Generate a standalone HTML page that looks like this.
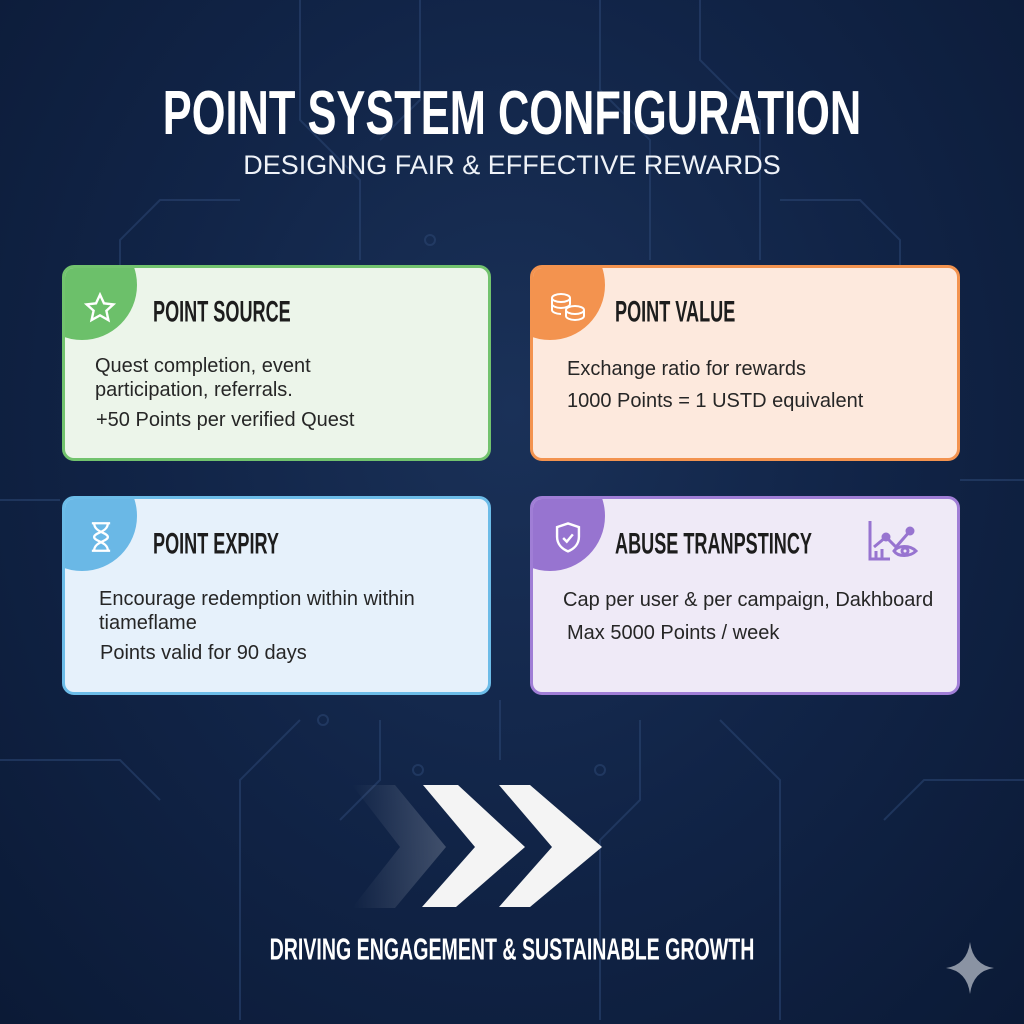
<!DOCTYPE html>
<html><head><meta charset="utf-8"><style>
*{margin:0;padding:0;box-sizing:border-box}
body{width:1024px;height:1024px;overflow:hidden;background:radial-gradient(ellipse at 50% 40%,#1a3158 0%,#112447 50%,#0b1a36 100%);font-family:"Liberation Sans",sans-serif;position:relative}
.t{position:absolute;left:0;width:1024px;text-align:center;color:#fff}
.card{position:absolute;border-radius:12px;overflow:hidden;border:3px solid}
.circ{position:absolute;left:-38px;top:-38px;width:110px;height:110px;border-radius:50%}
.h{position:absolute;font-weight:bold;font-size:27px;color:#1d1d1d;transform:scale(0.67,1.1);transform-origin:left top;white-space:nowrap}
.p{position:absolute;font-size:20px;color:#262626;line-height:24px;white-space:nowrap}
svg.ic{position:absolute}
</style></head><body>
<svg width="1024" height="1024" style="position:absolute;left:0;top:0" fill="none" stroke="#2a4470" stroke-width="2" opacity="0.6">
<path d="M300 0v120l60 60v80M420 0v100l-40 40M600 0v90l50 50v120M700 0v60l60 60v140M240 200h-80l-40 40v200M780 200h80l40 40v200M0 500h60M960 480h64M500 700v60M300 720l-60 60v240M720 720l60 60v240M640 720v80l-40 40v180M380 720v60l-40 40M0 760h120l40 40M1024 780h-100l-40 40"/>
<circle cx="430" cy="240" r="5"/><circle cx="323" cy="720" r="5"/><circle cx="600" cy="770" r="5"/><circle cx="418" cy="770" r="5"/>
</svg>
<div class="t" style="top:78px;font-weight:bold;font-size:62px;transform:scale(0.7,1.0)">POINT SYSTEM CONFIGURATION</div>
<div class="t" style="top:150px;font-size:27px;color:#eef2f8">DESIGNNG FAIR &amp; EFFECTIVE REWARDS</div>

<div class="card" style="left:62px;top:265px;width:429px;height:196px;background:#ecf5ea;border-color:#72c36e">
<div class="circ" style="background:#6cc06a"></div>
<svg class="ic" style="left:19px;top:24px" width="32" height="32" viewBox="0 0 24 24" fill="none" stroke="#fff" stroke-width="1.8"><path d="M12 2l3 6.5 7 .8-5.2 4.8 1.5 7L12 17.5 5.7 21l1.5-7L2 9.3l7-.8z"/></svg>
<div class="h" style="left:88px;top:27px">POINT SOURCE</div>
<div class="p" style="left:30px;top:86px">Quest completion, event<br>participation, referrals.</div>
<div class="p" style="left:31px;top:140px">+50 Points per verified Quest</div>
</div>

<div class="card" style="left:530px;top:265px;width:430px;height:196px;background:#fde9dd;border-color:#f3934f">
<div class="circ" style="background:#f3934f"></div>
<svg class="ic" style="left:16px;top:22px" width="38" height="36" viewBox="0 0 38 36" fill="none" stroke="#fff" stroke-width="2"><ellipse cx="12" cy="8" rx="9" ry="4"/><path d="M3 8v6c0 2 4 4 9 4s9-2 9-4V8M3 14v6c0 2 4 4 9 4"/><ellipse cx="26" cy="20" rx="9" ry="4"/><path d="M17 20v6c0 2 4 4 9 4s9-2 9-4v-6"/></svg>
<div class="h" style="left:82px;top:27px">POINT VALUE</div>
<div class="p" style="left:34px;top:89px">Exchange ratio for rewards</div>
<div class="p" style="left:34px;top:121px">1000 Points = 1 USTD equivalent</div>
</div>

<div class="card" style="left:62px;top:496px;width:429px;height:199px;background:#e6f1fb;border-color:#6cbce8">
<div class="circ" style="background:#6ab8e6"></div>
<svg class="ic" style="left:22px;top:22px" width="28" height="32" viewBox="0 0 24 28" fill="none" stroke="#fff" stroke-width="2"><path d="M4 2h16M4 26h16M6 2c0 8 12 8 12 12S6 18 6 26M18 2c0 8-12 8-12 12s12 4 12 12"/></svg>
<div class="h" style="left:88px;top:28px">POINT EXPIRY</div>
<div class="p" style="left:34px;top:88px">Encourage redemption within within<br>tiameflame</div>
<div class="p" style="left:35px;top:142px">Points valid for 90 days</div>
</div>

<div class="card" style="left:530px;top:496px;width:430px;height:199px;background:#efeaf7;border-color:#a07ed6">
<div class="circ" style="background:#9774d0"></div>
<svg class="ic" style="left:20px;top:22px" width="30" height="34" viewBox="0 0 24 28" fill="none" stroke="#fff" stroke-width="2"><path d="M12 2l9 3v8c0 6-4 10-9 12-5-2-9-6-9-12V5z"/><path d="M8 14l3 3 5-6"/></svg>
<div class="h" style="left:82px;top:28px">ABUSE TRANPSTINCY</div>
<svg class="ic" style="left:333px;top:20px" width="60" height="46" viewBox="0 0 60 46" fill="none" stroke="#9774d0" stroke-width="3"><path d="M4 2v38h20M8 28l12-10 10 10 14-16"/><circle cx="44" cy="12" r="3" fill="#9774d0"/><circle cx="20" cy="18" r="3" fill="#9774d0"/><path d="M28 32c4-6 16-6 22 0-6 6-18 6-22 0z"/><circle cx="39" cy="32" r="3"/><path d="M10 40v-8M16 40v-10"/></svg>
<div class="p" style="left:30px;top:89px">Cap per user &amp; per campaign, Dakhboard</div>
<div class="p" style="left:34px;top:122px">Max 5000 Points / week</div>
</div>

<svg width="1024" height="1024" style="position:absolute;left:0;top:0">
<defs><linearGradient id="g" x1="0" x2="1"><stop offset="0" stop-color="#fff" stop-opacity="0"/><stop offset="1" stop-color="#fff" stop-opacity="0.2"/></linearGradient></defs>
<polygon points="352,785 395,785 446,847 395,908 352,908 400,847" fill="url(#g)"/>
<polygon points="423,785 458,785 525,847 456,907 422,907 475,847" fill="#f4f4f4"/>
<polygon points="499,785 530,785 602,847 530,907 499,907 552,847" fill="#f4f4f4"/>
<path d="M970 942 Q973 965 994 968 Q973 971 970 994 Q967 971 946 968 Q967 965 970 942z" fill="#8a93a3"/>
</svg>
<div class="t" style="top:934px;font-weight:bold;font-size:29px;transform:scale(0.675,1.05)">DRIVING ENGAGEMENT &amp; SUSTAINABLE GROWTH</div>
</body></html>
